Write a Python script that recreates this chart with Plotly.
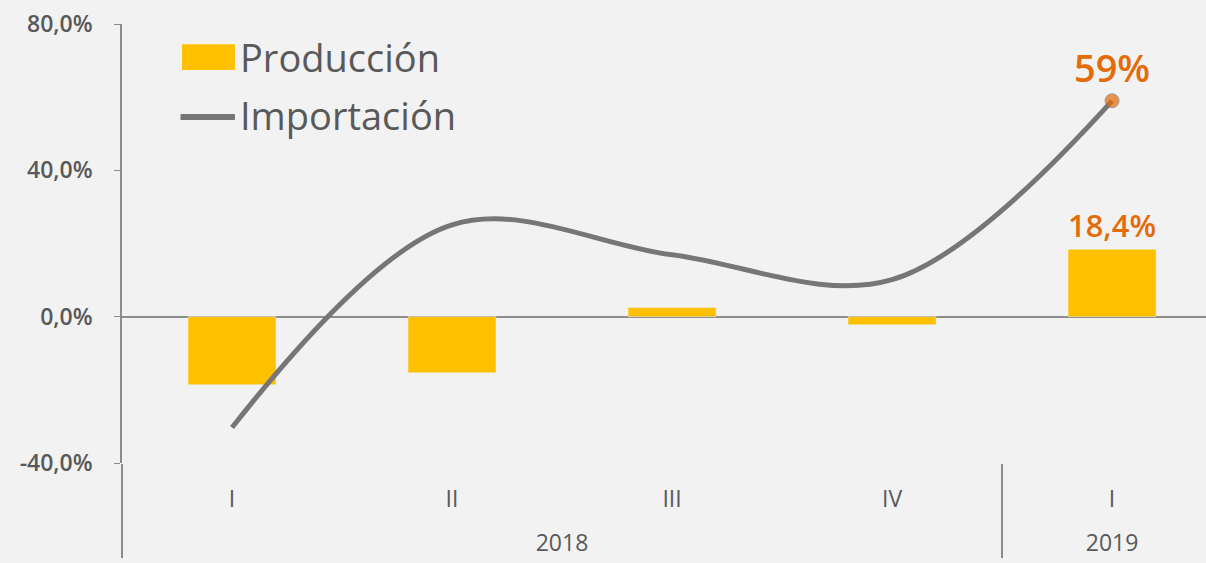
import plotly.graph_objects as go

anios = ["2018", "2018", "2018", "2018", "2019"]
trimestres = ["I", "II", "III", "IV", "I"]
produccion = [-18.6, -15.3, 2.5, -2.2, 18.4]
importacion = [-30.3, 25.1, 16.9, 10.1, 59.0]
etiqueta_prod = ["", "", "", "", "18,4%"]
etiqueta_imp = ["", "", "", "", "59%"]
y_ticks = [-40, 0, 40, 80]
y_ticktext = ["-40,0%", "0,0%", "40,0%", "80,0%"]

fuente = "Open Sans"
gris_txt = "#595959"
gris_eje = "#8c8c8c"
amarillo = "#FFC000"
naranja = "#E36C09"
gris_linea = "#767676"
fondo = "#F2F2F2"

# el año va una línea más abajo, como en el original
cat_anio = ["<br>" + a for a in anios]
x_cat = [cat_anio, trimestres]

fig = go.Figure([
    go.Bar(
        x=x_cat,
        y=produccion,
        name="Producción",
        width=0.4,
        marker=dict(color=amarillo),
        text=etiqueta_prod,
        textposition="outside",
        cliponaxis=False,
        textfont=dict(color=naranja, size=38, family=fuente, weight=600),
    ),
    go.Scatter(
        x=x_cat,
        y=importacion,
        name="Importación",
        mode="lines+markers+text",
        line=dict(color=gris_linea, width=5, shape="spline", smoothing=1.0),
        marker=dict(color=naranja, size=[0, 0, 0, 0, 14]),
        text=etiqueta_imp,
        textposition="top center",
        cliponaxis=False,
        textfont=dict(color=naranja, size=38, family=fuente, weight=600),
    ),
])

# leyenda dibujada a mano para tener los símbolos grandes
fig.add_shape(type="rect", xref="paper", yref="paper",
              x0=0.0554, x1=0.1042, y0=0.895, y1=0.954,
              fillcolor=amarillo, line=dict(width=0))
fig.add_shape(type="line", xref="paper", yref="paper",
              x0=0.054, x1=0.1042, y0=0.788, y1=0.788,
              line=dict(color=gris_linea, width=6))
fig.add_annotation(text="Producción", xref="paper", yref="paper",
                   x=0.107, y=0.924, xanchor="left", yanchor="middle",
                   showarrow=False, font=dict(size=38, color=gris_txt, family=fuente))
fig.add_annotation(text="Importación", xref="paper", yref="paper",
                   x=0.107, y=0.792, xanchor="left", yanchor="middle",
                   showarrow=False, font=dict(size=38, color=gris_txt, family=fuente))

fig.update_layout(
    width=1206,
    height=563,
    showlegend=False,
    margin=dict(l=122, r=0, t=24, b=100),
    plot_bgcolor=fondo,
    paper_bgcolor=fondo,
    font=dict(family=fuente, color=gris_txt),
    xaxis=dict(
        type="multicategory",
        range=[-0.5, 4.427],
        showdividers=True,
        dividercolor=gris_eje,
        dividerwidth=1.5,
        ticks="",
        ticklabelstandoff=20,
        tickfont=dict(size=23, color=gris_txt),
        showgrid=False,
        showline=False,
        zeroline=False,
    ),
    yaxis=dict(
        range=[-40, 80],
        tickvals=y_ticks,
        ticktext=y_ticktext,
        tickfont=dict(size=23, color=gris_txt, weight=600),
        ticks="outside",
        ticklen=6,
        tickcolor=gris_eje,
        showline=True,
        linecolor=gris_eje,
        linewidth=1.5,
        showgrid=False,
        zeroline=True,
        zerolinecolor=gris_eje,
        zerolinewidth=1.5,
        ticklabelstandoff=17,
    ),
)

fig.write_html("out.html", config={"displayModeBar": False},
               post_script="document.body.style.margin='0';")
